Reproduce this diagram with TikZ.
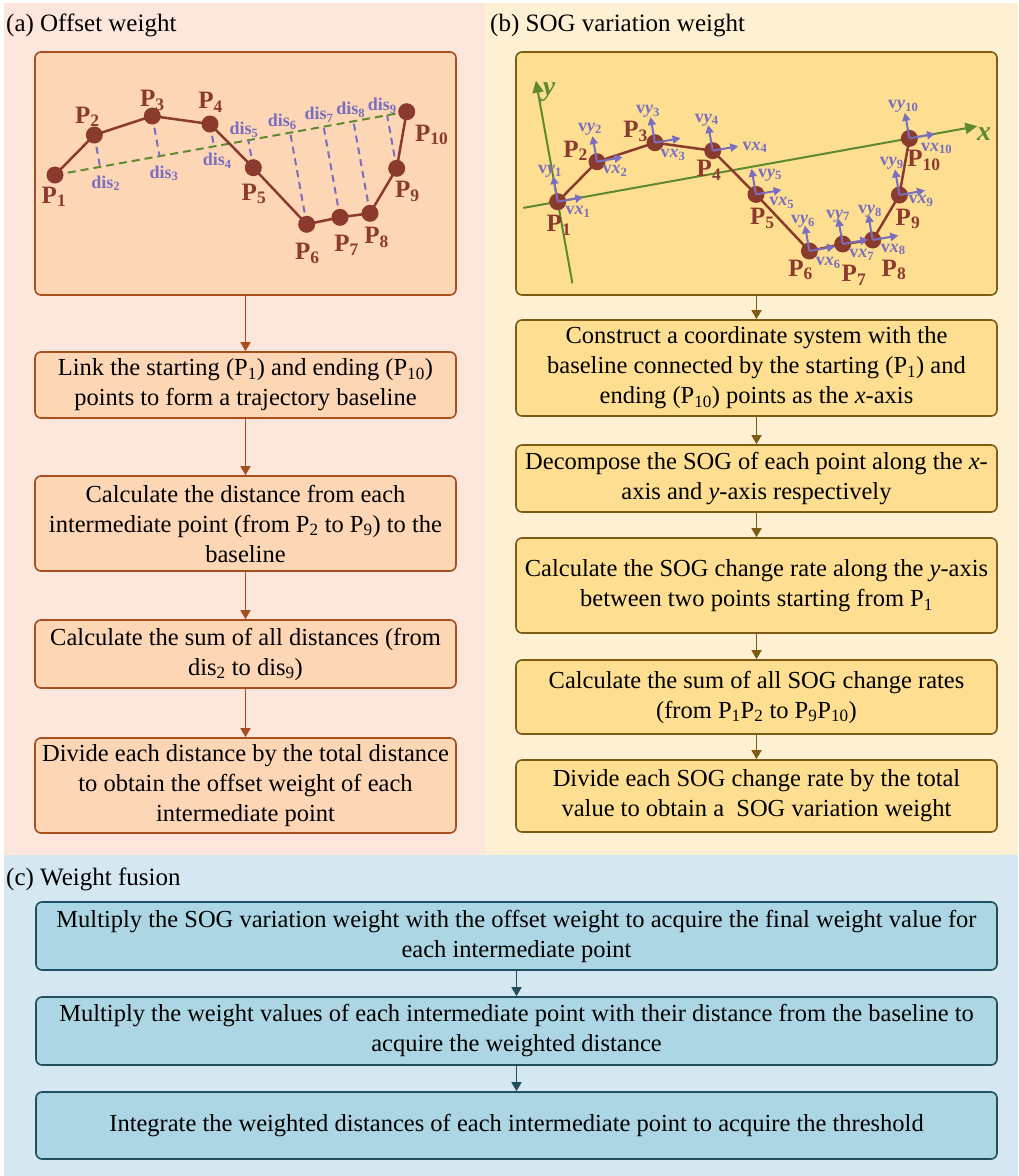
\documentclass[tikz,border=0pt]{standalone}
\usepackage{fontspec}
\setmainfont{LiberationSerif}[
  Extension=.ttf,
  UprightFont=*-Regular,
  BoldFont=*-Bold,
  ItalicFont=*-Italic,
  BoldItalicFont=*-BoldItalic]
\usetikzlibrary{calc,arrows.meta}

\definecolor{bgA}{HTML}{FDE6DB}
\definecolor{boxA}{HTML}{FDD6B6}
\definecolor{lineA}{HTML}{A64E1C}
\definecolor{bgB}{HTML}{FEF0D2}
\definecolor{boxB}{HTML}{FEDF92}
\definecolor{lineB}{HTML}{7E5B14}
\definecolor{bgC}{HTML}{D5E7F0}
\definecolor{boxC}{HTML}{ADD6E4}
\definecolor{lineC}{HTML}{1F4F60}
\definecolor{traj}{HTML}{8B3A2E}
\definecolor{distc}{HTML}{7A6FBE}
\definecolor{basec}{HTML}{5E8A2F}

\tikzset{
  stepbox/.style={draw, rounded corners=6pt, line width=1.6pt, align=center,
    inner sep=0pt, font=\fontsize{24.5}{30}\selectfont},
  boxa/.style={stepbox, fill=boxA, draw=lineA, minimum width=421pt},
  boxb/.style={stepbox, fill=boxB, draw=lineB, minimum width=481pt},
  boxc/.style={stepbox, fill=boxC, draw=lineC, minimum width=961pt},
  flowa/.style={draw=lineA, line width=1.5pt, -{Triangle[length=9pt,width=10pt]}},
  flowb/.style={draw=lineB, line width=1.5pt, -{Triangle[length=9pt,width=10pt]}},
  flowc/.style={draw=lineC, line width=1.5pt, -{Triangle[length=9pt,width=10pt]}},
  paneltitle/.style={anchor=base west, inner sep=0pt, font=\fontsize{25}{25}\selectfont},
  dot/.style={circle, fill=traj, inner sep=0pt, minimum size=17pt},
  trajline/.style={draw=traj, line width=2.5pt},
  plabel/.style={inner sep=0pt, text=traj, font=\fontsize{25}{25}\selectfont\bfseries},
  dislabel/.style={inner sep=0pt, text=distc, font=\fontsize{18}{18}\selectfont\bfseries},
  disline/.style={draw=distc, line width=2pt, dash pattern=on 7pt off 5pt},
  baseline/.style={draw=basec, line width=2pt, dash pattern=on 8pt off 5pt},
  axisline/.style={draw=basec, line width=2pt, -{Triangle[length=12pt,width=11pt]}},
  axislabel/.style={inner sep=0pt, text=basec, font=\fontsize{28}{28}\selectfont\itshape\bfseries},
  vel/.style={draw=distc, line width=2pt, -{Triangle[length=8pt,width=8pt]}},
  vlabel/.style={inner sep=0pt, text=distc, font=\fontsize{18}{18}\selectfont\bfseries},
}

\begin{document}
\begin{tikzpicture}[x=1pt,y=-1pt]
\useasboundingbox (0,0) rectangle (1018,1176);
\fill[white] (0,0) rectangle (1018,1176);

% panel backgrounds
\fill[bgA] (4,3) rectangle (485,855);
\fill[bgB] (485,3) rectangle (1018,855);
\fill[bgC] (4,855) rectangle (1018,1176);

\node[paneltitle] (ta) at (6,31) {(a) Offset weight};
\node[paneltitle] (tb) at (490,31) {(b) SOG variation weight};
\node[paneltitle] (tc) at (6,885) {(c) Weight fusion};

% ---------- (a) offset weight ----------
\node[boxa, minimum height=243pt] (a0) at (245.5,173.5) {};
\node[boxa, minimum height=66pt] (a1) at (245.5,385)
  {Link the starting (P\textsubscript{1}) and ending (P\textsubscript{10})\\points to form a trajectory baseline};
\node[boxa, minimum height=95pt] (a2) at (245.5,523.5)
  {Calculate the distance from each\\intermediate point (from P\textsubscript{2} to P\textsubscript{9}) to the\\baseline};
\node[boxa, minimum height=68pt] (a3) at (245.5,654)
  {Calculate the sum of all distances (from\\dis\textsubscript{2} to dis\textsubscript{9})};
\node[boxa, minimum height=95pt] (a4) at (245.5,785.5)
  {Divide each distance by the total distance\\to obtain the offset weight of each\\intermediate point};
\draw[flowa] (a0) -- (a1);
\draw[flowa] (a1) -- (a2);
\draw[flowa] (a2) -- (a3);
\draw[flowa] (a3) -- (a4);

% trajectory points
\coordinate (A1) at (55,175);
\coordinate (A2) at (94.3,135);
\coordinate (A3) at (152.3,116);
\coordinate (A4) at (210,124);
\coordinate (A5) at (253.3,167.7);
\coordinate (A6) at (306.7,224.3);
\coordinate (A7) at (340,217.3);
\coordinate (A8) at (370,213.3);
\coordinate (A9) at (396.7,168.3);
\coordinate (A10) at (406.7,111.7);

\draw[baseline] (A1) -- (A10);
\foreach \i in {2,...,9} \draw[disline] (A\i) -- ($(A1)!(A\i)!(A10)$);
\draw[trajline] (A1) \foreach \i in {2,...,10} { -- (A\i) };
\foreach \i in {1,...,10} \node[dot] (da\i) at (A\i) {};

\foreach \i/\x/\y in {1/54/196.7, 2/87.3/116.7, 3/152.3/100.7, 4/210.7/102.3,
    5/254/194, 6/307.3/253.3, 7/346.7/245, 8/376.7/237.3, 9/407.3/191.7, 10/431.7/135}
  \node[plabel] (pa\i) at (\x,\y) {P\textsubscript{\i}};

\foreach \i/\x/\y in {2/105.7/183.3, 3/164/173.3, 4/217.3/160.7, 5/244/130,
    6/282.3/121.7, 7/319/115, 8/350.7/110, 9/382.3/106}
  \node[dislabel] (dis\i) at (\x,\y) {dis\textsubscript{\i}};

% ---------- (b) SOG variation weight ----------
\node[boxb, minimum height=243pt] (b0) at (756.5,173.5) {};
\node[boxb, minimum height=96pt] (b1) at (756.5,368)
  {Construct a coordinate system with the\\baseline connected by the starting (P\textsubscript{1}) and\\ending (P\textsubscript{10}) points as the \textit{x}-axis};
\node[boxb, minimum height=67pt] (b2) at (756.5,478.5)
  {Decompose the SOG of each point along the \textit{x}-\\axis and \textit{y}-axis respectively};
\node[boxb, minimum height=95pt] (b3) at (756.5,585.5)
  {Calculate the SOG change rate along the \textit{y}-axis\\between two points starting from P\textsubscript{1}};
\node[boxb, minimum height=74pt] (b4) at (756.5,697)
  {Calculate the sum of all SOG change rates\\(from P\textsubscript{1}P\textsubscript{2} to P\textsubscript{9}P\textsubscript{10})};
\node[boxb, minimum height=72pt] (b5) at (756.5,796)
  {Divide each SOG change rate by the total\\value to obtain a \ SOG variation weight};
\draw[flowb] (b0) -- (b1);
\draw[flowb] (b1) -- (b2);
\draw[flowb] (b2) -- (b3);
\draw[flowb] (b3) -- (b4);
\draw[flowb] (b4) -- (b5);

\foreach \i in {1,...,10} \coordinate (B\i) at ($(A\i)+(502.7,26.7)$);

% axes: x along the baseline, y perpendicular through the start point
\draw[axisline] ($(B1)!-0.098!(B10)$) -- ($(B1)!1.193!(B10)$);
\draw[axisline] ($(B1)!83pt!-90:(B10)$) -- ($(B1)!123pt!90:(B10)$);
\node[axislabel] (xlab) at (984,133.7) {x};
\node[axislabel] (ylab) at (549,91.7) {y};

\draw[trajline] (B1) \foreach \i in {2,...,10} { -- (B\i) };
\foreach \i in {1,...,10} \node[dot] (db\i) at (B\i) {};
\foreach \i in {1,...,10} {
  \draw[vel] (db\i.center) -- ++(-10:26);
  \draw[vel] (db\i.center) -- ++(-100:26);
}

\foreach \i/\x/\y in {1/559/225, 2/575.7/150.7, 3/635.7/131.7, 4/709/170,
    5/762.3/218.3, 6/800.7/270, 7/854/275, 8/894/270, 9/908/219, 10/924/160.7}
  \node[plabel] (pb\i) at (\x,\y) {P\textsubscript{\i}};

\foreach \i/\x/\y in {1/550/171.7, 2/590/129, 3/648/111.7, 4/706.7/120, 5/770/175,
    6/803/221.7, 7/838/216, 8/870/211.7, 9/891.7/163.3, 10/903.3/106.7}
  \node[vlabel] (vy\i) at (\x,\y) {v\textit{y}\textsubscript{\i}};

\foreach \i/\x/\y in {1/578/211.7, 2/615/171, 3/673/155, 4/755/147.3, 5/781.7/202.7,
    6/828.3/262.7, 7/861.7/255, 8/893.3/249.3, 9/921/201, 10/936.7/148.3}
  \node[vlabel] (vx\i) at (\x,\y) {v\textit{x}\textsubscript{\i}};

% ---------- (c) weight fusion ----------
\node[boxc, minimum height=68pt] (c1) at (516.5,936)
  {Multiply the SOG variation weight with the offset weight to acquire the final weight value for\\each intermediate point};
\node[boxc, minimum height=68pt] (c2) at (516.5,1031)
  {Multiply the weight values of each intermediate point with their distance from the baseline to\\acquire the weighted distance};
\node[boxc, minimum height=67pt] (c3) at (516.5,1125.5)
  {Integrate the weighted distances of each intermediate point to acquire the threshold};
\draw[flowc] (c1) -- (c2);
\draw[flowc] (c2) -- (c3);
\end{tikzpicture}
\end{document}
